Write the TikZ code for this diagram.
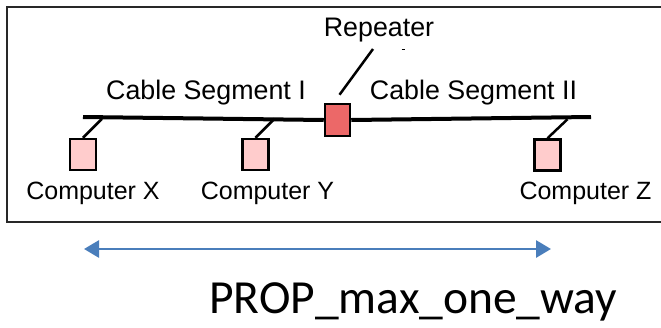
\documentclass[tikz,border=0pt]{standalone}
\usepackage{fontspec}
\setmainfont{Liberation Sans}
\newfontfamily\calfont{Carlito}
\usetikzlibrary{arrows.meta,calc}
\definecolor{pcpink}{RGB}{255,204,204}
\definecolor{repred}{RGB}{236,104,104}
\definecolor{spanblue}{RGB}{74,126,187}
\definecolor{framegray}{RGB}{40,40,40}
\tikzset{
  pcbox/.style={draw=black, line width=2.5pt, fill=pcpink, minimum width=26pt, minimum height=31pt, inner sep=0pt},
  repbox/.style={draw=black, line width=2.5pt, fill=repred, minimum width=25pt, minimum height=32pt, inner sep=0pt},
  cable/.style={line width=4pt},
  stub/.style={line width=2.5pt},
  pclabel/.style={anchor=base, inner sep=0pt, font=\fontsize{25}{28}\selectfont},
  seglabel/.style={anchor=base, inner sep=0pt, font=\fontsize{26.8}{30}\selectfont},
  span/.style={draw=spanblue, line width=2.8pt, {Triangle[length=15pt,width=17pt]}-{Triangle[length=15pt,width=17pt]}}
}
\begin{document}
\begin{tikzpicture}[x=1pt, y=-1pt]
  \useasboundingbox (0,0) rectangle (661,327);
  \clip (0,0) rectangle (661,327);
  \fill[white] (0,0) rectangle (661,327);

  % outer frame of the network sketch
  \draw[framegray, line width=2pt] (7,7) rectangle (680,222);

  % computers and the repeater
  \node[pcbox] (compX) at (83,154.5) {};
  \node[pcbox] (compY) at (255.5,154.5) {};
  \node[pcbox] (compZ) at (547.5,155) {};
  \node[repbox] (rep) at (337.5,120) {};

  % the bus cable, split by the repeater
  \coordinate (cableL) at (83,117);
  \coordinate (cableR) at (591,117);
  \draw[cable] (cableL) -- (rep.west);
  \draw[cable] (rep.east) -- (cableR);

  % drop lines to the cable
  \draw[stub] (compX.north) -- ++(19,-19);
  \draw[stub] (compY.north) -- ++(19,-19);
  \draw[stub] (compZ.north) -- ++(20,-19);

  % repeater pointer
  \coordinate (reptip) at (373,49);
  \draw[stub] ($(rep.north)+(2,-8)$) -- (reptip);
  \draw[line width=1pt] (401.5,49) -- (405,49);

  % labels
  \node[seglabel] (lrep) at (379,36) {Repeater};
  \node[seglabel] (lseg1) at (206,99) {Cable Segment I};
  \node[seglabel] (lseg2) at (473.5,99) {Cable Segment II};
  \node[pclabel] (lX) at (93,199) {Computer X};
  \node[pclabel] (lY) at (267.5,199) {Computer Y};
  \node[pclabel] (lZ) at (585.5,199) {Computer Z};

  % maximum one-way span
  \coordinate (spanL) at (84,249);
  \coordinate (spanR) at (551,249);
  \draw[span] (spanL) -- (spanR);
  \node[anchor=base west, inner sep=0pt, font=\calfont\fontsize{47.5}{52}\selectfont] (prop) at (209,313) {PROP\_max\_one\_way};
\end{tikzpicture}
\end{document}
